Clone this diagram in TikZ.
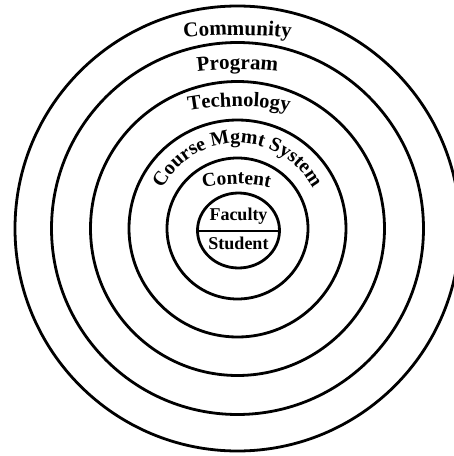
\documentclass[tikz,border=0pt]{standalone}
\usepackage{fontspec}
\setmainfont{Liberation Serif}
\usepackage{tikz}
\usetikzlibrary{positioning,shapes.geometric,decorations.text}

\begin{document}
\begin{tikzpicture}[x=1pt, y=1pt,
  ring/.style={draw, line width=2.8pt},
  layer/.style={font=\bfseries\fontsize{18}{18}\selectfont, anchor=base, inner sep=0pt},
  arclabel/.style={decorate, decoration={text along path, text align=center, text={#1}}}]
  \useasboundingbox (-237.5,-227.5) rectangle (216.5,228.5);

  % Rings, outermost first
  \draw[ring] (0,0) circle (222.5);
  \draw[ring] (0,0) circle (186);
  \draw[ring] (0,0) circle (147);
  \draw[ring] (0,0) circle (108.5);
  \draw[ring] (0,0) circle (70.5);

  % Core: faculty over student
  \node[ring, ellipse, minimum width=82pt, minimum height=75pt, inner sep=0pt] (core) at (1,-2) {};
  \draw[line width=2pt] (core.west) -- (core.east);
  \node[layer] (faculty) at (1,7.8) {Faculty};
  \node[layer] (student) at (1,-20.5) {Student};

  % Curved labels, one per ring
  \path[arclabel={|\bfseries\fontsize{21}{21}\selectfont|Community}, shift={(0,-306.5)}]
    (100:500) arc[start angle=100, end angle=80, radius=500];
  \path[arclabel={|\bfseries\fontsize{21}{21}\selectfont|Program}, shift={(0,-170.8)}]
    (105:330) arc[start angle=105, end angle=75, radius=330];
  \path[arclabel={|\bfseries\fontsize{20.5}{20.5}\selectfont|Technology}, shift={(1.5,-168)}]
    (110:290) arc[start angle=110, end angle=70, radius=290];
  \path[arclabel={|\bfseries\fontsize{20}{20}\selectfont|Course Mgmt System}, shift={(0,0.5)}]
    (170:85) arc[start angle=170, end angle=10, radius=85];
  \path[arclabel={|\bfseries\fontsize{19.5}{19.5}\selectfont|Content}, shift={(-1,-110.5)}]
    (130:155) arc[start angle=130, end angle=50, radius=155];
\end{tikzpicture}
\end{document}
